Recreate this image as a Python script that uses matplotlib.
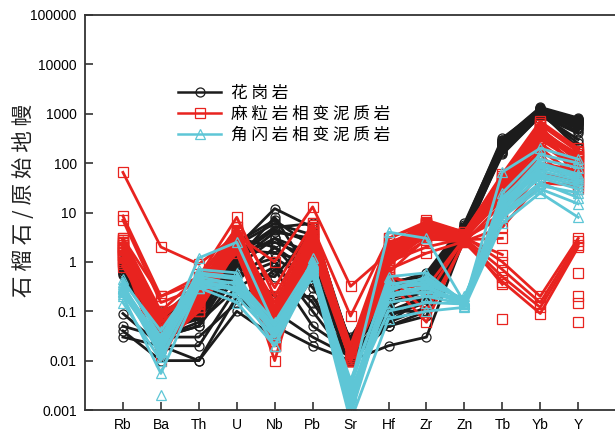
import numpy as np
import matplotlib
matplotlib.use('Agg')
import matplotlib.pyplot as plt
from matplotlib.lines import Line2D

nan = np.nan

elements = ['Rb', 'Ba', 'Th', 'U', 'Nb', 'Pb', 'Sr', 'Hf', 'Zr', 'Zn', 'Tb', 'Yb', 'Y']
ytick_vals = [0.001, 0.01, 0.1, 1, 10, 100, 1000, 10000, 100000]
ytick_text = ['0.001', '0.01', '0.1', '1', '10', '100', '1000', '10000', '100000']

# garnet / primitive mantle, granite
granite = [
    [1.0, 0.08, 0.15, 2.0, 12, 5.0, 0.02, 0.3, 0.4, 5.0, 250, 1250, 700],
    [0.9, 0.06, 0.10, 1.5, 5.0, 6.0, 0.015, 0.2, 0.3, 4.5, 200, 1100, 600],
    [0.8, 0.05, 0.08, 1.0, 4.0, 3.0, 0.02, 0.15, 0.25, 4.0, 300, 1350, 820],
    [0.7, 0.04, 0.30, 0.8, 3.0, 0.8, 0.012, 0.1, 0.2, 4.0, 180, 1000, 500],
    [1.1, 0.10, 0.20, 3.0, 2.0, 0.3, 0.03, 0.4, 0.5, 5.5, 320, 1200, 650],
    [0.6, 0.03, 0.05, 0.5, 1.0, 0.1, 0.01, 0.05, 0.1, 3.5, 150, 900, 400],
    [0.09, 0.02, 0.01, 0.2, 0.05, 0.02, 0.01, 0.02, 0.03, 3.0, 170, 950, 300],
    [0.05, 0.03, 0.03, 0.15, 0.7, 0.05, 0.015, 0.05, 0.08, 3.5, 200, 1000, 250],
    [0.04, 0.01, 0.01, 0.1, 0.03, 0.5, 0.02, 0.1, 0.1, 4.0, 220, 1100, 200],
    [0.03, 0.02, 0.02, 0.3, 0.1, 0.03, 0.012, 0.06, 0.2, 4.0, 160, 900, 450],
    [0.8, 0.07, 0.40, 2.5, 7.0, 2.0, 0.025, 0.3, 0.35, 5.0, 260, 1200, 750],
    [0.7, 0.05, 0.12, 1.2, 3.0, 1.5, 0.02, 0.2, 0.3, 4.5, 240, 1100, 700],
    [0.9, 0.04, 0.08, 0.6, 0.5, 4.0, 0.015, 0.15, 0.2, 4.0, 210, 1000, 550],
    [0.6, 0.06, 0.10, 0.4, 2.0, 0.6, 0.018, 0.25, 0.4, 5.0, 190, 1050, 600],
    [1.0, 0.03, 0.05, 0.9, 0.2, 0.2, 0.01, 0.08, 0.15, 3.8, 230, 1150, 650],
    [0.75, 0.08, 0.25, 1.8, 1.5, 1.0, 0.02, 0.3, 0.45, 5.0, 270, 1250, 800],
    [0.85, 0.05, 0.18, 1.3, 4.5, 2.5, 0.016, 0.22, 0.5, 5.2, 280, 1300, 750],
    [0.65, 0.04, 0.07, 0.7, 1.2, 0.4, 0.011, 0.12, 0.35, 4.8, 210, 1150, 680],
    [0.95, 0.07, 0.22, 2.2, 6.0, 3.5, 0.022, 0.35, 0.6, 6.0, 290, 1300, 780],
    [0.55, 0.03, 0.06, 0.3, 0.8, 0.15, 0.013, 0.06, 0.12, 3.6, 190, 1000, 520],
    [0.8, 0.06, 0.14, 1.6, 2.5, 1.2, 0.018, 0.18, 0.28, 4.6, 250, 1200, 720],
    [0.7, 0.05, 0.09, 1.1, 8.0, 0.5, 0.014, 0.09, 0.18, 4.2, 230, 1100, 620],
]

# granulite-facies metapelite
granulite = [
    [65, 2.0, 0.9, 3.5, 1.0, 13, 0.32, 1.5, 3.0, 3.2, 45, 400, 150],
    [8.5, 0.2, 0.5, 8.0, 0.2, 5.0, 0.08, 3.0, 6.0, 3.5, 50, 650, 180],
    [7.0, 0.15, 0.3, 5.0, 0.1, 4.0, 0.02, 2.0, 5.0, 3.0, 40, 500, 120],
    [3.0, 0.1, 0.2, 4.0, 0.05, 6.0, 0.015, 1.5, 7.0, 4.0, 60, 700, 200],
    [2.5, 0.05, 0.15, 3.0, 0.03, 3.0, 0.012, 1.0, 4.0, 3.5, 30, 400, 80],
    [2.0, 0.03, 0.1, 2.5, 0.02, 2.0, 0.01, 0.8, 5.0, 3.0, 25, 300, 100],
    [1.5, 0.02, 0.2, 2.0, 0.01, 4.0, 0.015, 1.2, 6.0, 3.2, 35, 450, 150],
    [1.2, 0.01, 0.3, 3.5, 0.15, 5.0, 0.012, 2.5, 4.5, 3.5, 45, 550, 60],
    [1.0, 0.1, 0.5, 4.5, 0.1, 3.5, 0.02, 3.0, 6.5, 4.0, 55, 650, 40],
    [0.8, 0.05, 0.12, 2.0, 0.05, 1.5, 0.01, 0.6, 0.2, 3.0, 20, 200, 50],
    [3.0, 0.2, 0.4, 5.0, 0.3, 6.0, 0.015, 0.5, 0.1, 2.5, 15, 150, 30],
    [2.0, 0.08, 0.25, 3.0, 0.08, 2.5, 0.01, 0.4, 0.06, 2.8, 10, 100, 70],
    [1.8, 0.04, 0.15, 2.2, 0.04, 3.0, 0.012, 1.0, 2.0, 3.0, 8, 60, 45],
    [1.3, 0.06, 0.2, 1.5, 0.02, 2.0, 0.01, 0.7, 1.5, 2.6, 5, 40, 35],
    [2.4, 0.06, 0.22, 3.8, 0.07, 4.5, 0.013, 1.6, 5.5, 3.4, 40, 500, 130],
    [1.9, 0.04, 0.18, 2.8, 0.04, 3.8, 0.011, 1.3, 4.8, 3.3, 38, 420, 110],
    [1.4, 0.03, 0.12, 3.2, 0.03, 5.5, 0.012, 2.2, 6.2, 3.6, 50, 600, 170],
    [2.8, 0.09, 0.28, 4.2, 0.12, 3.2, 0.014, 1.8, 3.5, 3.1, 28, 350, 90],
    [1.6, 0.05, 0.16, 2.4, 0.06, 2.6, 0.011, 0.9, 2.8, 2.9, 22, 250, 75],
    [2.2, 0.07, 0.35, 3.0, 0.09, 4.8, 0.013, 1.4, 5.8, 3.5, 33, 380, 140],
    [1.7, 0.03, 0.14, 2.6, 0.025, 3.3, 0.01, 1.1, 4.2, 3.2, 18, 180, 55],
    [2.2, 0.03, 0.12, 2.8, 0.03, 4.5, 0.012, 1.8, 5.5, 3.3, 1.0, 0.2, 3.0],
    [1.6, 0.02, 0.1, 2.4, 0.02, 3.5, 0.01, 1.3, 4.0, 3.0, 0.7, 0.15, 2.6],
    [1.1, 0.04, 0.18, 3.2, 0.05, 2.8, 0.014, 0.9, 3.5, 2.8, 0.5, 0.12, 2.2],
    [0.9, 0.03, 0.14, 2.0, 0.03, 2.2, 0.011, 0.6, 3.0, 2.5, 0.4, 0.09, 2.0],
    [1.4, 0.05, 0.2, 2.6, 0.06, 3.0, 0.012, 1.1, 3.8, nan, 0.07, nan, 0.06],
    [2.8, 0.07, 0.3, 4.0, 0.12, 4.0, 0.014, 2.0, 5.0, 3.0, 1.4, nan, 0.6],
    [1.7, 0.04, 0.16, 2.8, 0.04, 2.6, 0.01, 0.9, 4.2, 2.8, 3.0, nan, 0.2],
    [1.0, 0.03, 0.1, 1.8, 0.02, 1.8, 0.01, 0.5, 0.3, 3.0, 0.35, nan, 0.15],
]

# amphibolite-facies metapelite
amphibolite = [
    [0.3, 0.02, 1.2, 2.5, 0.05, 0.8, 0.003, 4.0, 3.0, 0.15, 66, 200, 120],
    [0.25, 0.03, 0.6, 0.5, 0.03, 0.6, 0.002, 0.3, 0.4, 0.17, 20, 100, 60],
    [0.2, 0.0055, 0.3, 0.4, 0.04, 0.9, 0.0015, 0.2, 0.3, 0.13, 15, 60, 40],
    [0.4, 0.04, 0.5, 0.35, 0.02, 1.2, 0.0008, 0.25, 0.5, 0.16, 12, 50, 30],
    [0.35, 0.015, 0.4, 0.3, 0.05, 0.7, 0.004, 0.4, 0.2, 0.2, 10, 40, 20],
    [0.15, 0.01, 0.35, 0.2, 0.03, 0.5, 0.002, 0.1, 0.15, 0.14, 8, 30, 15],
    [0.3, 0.025, 0.45, 0.25, 0.04, 0.8, 0.0012, 0.3, 0.35, 0.18, 18, 120, 80],
    [0.45, 0.03, 0.55, 0.45, 0.06, 1.0, 0.003, 0.5, 0.6, 0.15, 25, 150, 100],
    [0.28, 0.02, 0.3, 0.15, 0.02, 0.6, 0.0006, 0.07, 0.1, 0.12, 6, 25, 8],
    [0.22, 0.018, 0.7, 0.6, 0.03, 0.9, 0.002, 0.35, 0.45, 0.16, 14, 80, 50],
    [nan, 0.002, nan, 0.4, 0.05, 0.7, 0.002, 0.2, 0.25, 0.15, 12, 70, 45],
    [0.3, 0.012, 0.3, 0.3, 0.05, 0.75, 0.0025, 0.15, 0.2, 0.14, 9, 35, 25],
    [0.33, 0.022, 0.42, 0.38, 0.04, 0.85, 0.0018, 0.28, 0.4, 0.17, 16, 90, 55],
    [0.26, 0.016, 0.38, 0.28, 0.035, 0.65, 0.001, 0.22, 0.32, 0.15, 11, 55, 35],
]

black = '#1c1c1c'
red = '#e8231f'
cyan = '#5ec6d6'

plt.rcParams['font.family'] = ['Liberation Sans', 'DejaVu Sans']
cjk = ['Noto Sans CJK SC', 'DejaVu Sans']

fig = plt.figure(figsize=(6.15, 4.33), dpi=100)
ax = fig.add_axes([85 / 615, 23 / 433, 530 / 615, 395 / 433])

x = np.arange(len(elements))
groups = [(granite, black, 'o'), (granulite, red, 's'), (amphibolite, cyan, '^')]
for rows, col, mk in groups:
    for row in rows:
        ax.plot(x, row, color=col, lw=2.0, marker=mk, ms=6.5,
                mfc='none', mec=col, mew=0.9)

ax.set_yscale('log')
ax.set_ylim(0.001, 100000)
ax.set_xlim(-1, 12.97)
ax.set_yticks(ytick_vals)
ax.set_yticklabels(ytick_text)
ax.minorticks_off()
ax.set_xticks(x)
ax.set_xticklabels(elements)
ax.tick_params(direction='in', length=6, width=1.2, labelsize=10,
               color='#333333', pad=6)
for s in ['left', 'bottom', 'top']:
    ax.spines[s].set_linewidth(1.3)
    ax.spines[s].set_color('#333333')
    ax.spines[s].set_zorder(5)
ax.spines['right'].set_visible(False)

ax.set_ylabel('石 榴 石 / 原 始 地 幔', family=cjk, fontsize=15.5, color='#222222')
ax.yaxis.set_label_coords(-0.095, 0.53)

handles = [Line2D([], [], color=c, lw=1.8, marker=m, ms=6.5, mfc='none', mew=0.9)
           for _, c, m in groups]
labels = ['花 岗 岩', '麻 粒 岩 相 变 泥 质 岩', '角 闪 岩 相 变 泥 质 岩']
ax.legend(handles, labels, loc='upper left', bbox_to_anchor=(0.16, 0.845),
          frameon=False, handlelength=2.6, handletextpad=0.6, labelspacing=0.25,
          borderpad=0, prop={'family': cjk, 'size': 12})

fig.savefig('out.png', dpi=100)
